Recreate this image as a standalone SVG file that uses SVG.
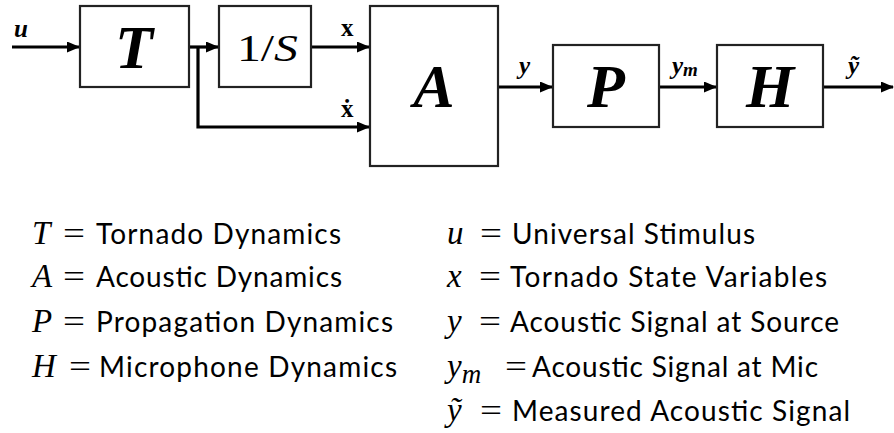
<svg xmlns="http://www.w3.org/2000/svg" width="894" height="433" viewBox="0 0 894 433">
<defs>
<style>
.box{fill:#fff;stroke:#222;stroke-width:2.2}
.wire{fill:none;stroke:#000;stroke-width:3.2}
.big{font-family:"Liberation Serif",serif;font-style:italic;font-weight:bold;font-size:62px;text-anchor:middle}
.lab{font-family:"Liberation Serif",serif;font-weight:bold;font-size:25px}
.m{font-family:"Liberation Serif",serif;font-style:italic;font-size:33px}
.eq{font-family:"Liberation Serif",serif;font-size:32px}
.w{font-family:Lato,"Liberation Sans",sans-serif;font-size:28px;fill:#000}
</style>
<marker id="ah" markerUnits="userSpaceOnUse" markerWidth="13" markerHeight="11" refX="12" refY="5.5" orient="auto">
<path d="M0,0 L13,5.5 L0,11 z" fill="#000"/>
</marker>
</defs>
<rect width="894" height="433" fill="#fff"/>
<g id="connectors">
<line class="wire" x1="12" y1="47" x2="79" y2="47" marker-end="url(#ah)"/>
<line class="wire" x1="189" y1="47" x2="218" y2="47" marker-end="url(#ah)"/>
<polyline class="wire" points="198,47 198,127 369,127" marker-end="url(#ah)"/>
<line class="wire" x1="311" y1="47" x2="369" y2="47" marker-end="url(#ah)"/>
<line class="wire" x1="498" y1="87" x2="552" y2="87" marker-end="url(#ah)"/>
<line class="wire" x1="659" y1="87" x2="716" y2="87" marker-end="url(#ah)"/>
<line class="wire" x1="823" y1="87" x2="893" y2="87" marker-end="url(#ah)"/>
<text class="lab" x="14" y="37" font-style="italic">u</text>
<text class="lab" x="341" y="36">x</text>
<text class="lab" x="341" y="117">ẋ</text>
<text class="lab" x="519" y="74" font-style="italic">y</text>
<text class="lab" x="672" y="74" font-style="italic">y<tspan font-size="19" dy="2">m</tspan></text>
<text class="lab" x="848" y="74" font-style="italic">ỹ</text>
</g>
<g id="T"><rect class="box" x="80" y="6" width="109" height="81"/><text class="big" x="134" y="68">T</text></g>
<g id="integrator"><rect class="box" x="219" y="6" width="92" height="81"/><text x="237" y="61" font-family="Liberation Serif,serif" font-size="38" textLength="61" lengthAdjust="spacingAndGlyphs">1/<tspan font-style="italic">S</tspan></text></g>
<g id="A"><rect class="box" x="370" y="6" width="128" height="160"/><text class="big" x="434" y="107">A</text></g>
<g id="P"><rect class="box" x="553" y="45" width="106" height="82"/><text class="big" x="606" y="107">P</text></g>
<g id="H"><rect class="box" x="717" y="45" width="106" height="82"/><text class="big" x="770" y="107">H</text></g>
<g id="legend">
<text class="m" x="32" y="244">T</text><text class="eq" x="63" y="244" textLength="22" lengthAdjust="spacingAndGlyphs">=</text><text class="w" x="96" y="244" textLength="245">Tornado Dynamics</text>
<text class="m" x="32" y="287">A</text><text class="eq" x="63" y="287" textLength="22" lengthAdjust="spacingAndGlyphs">=</text><text class="w" x="96" y="287" textLength="246">Acoustic Dynamics</text>
<text class="m" x="32" y="332">P</text><text class="eq" x="63" y="332" textLength="22" lengthAdjust="spacingAndGlyphs">=</text><text class="w" x="96" y="332" textLength="297">Propagation Dynamics</text>
<text class="m" x="32" y="377">H</text><text class="eq" x="69" y="377" textLength="22" lengthAdjust="spacingAndGlyphs">=</text><text class="w" x="99" y="377" textLength="298">Microphone Dynamics</text>
<text class="m" x="447" y="244">u</text><text class="eq" x="480" y="244" textLength="22" lengthAdjust="spacingAndGlyphs">=</text><text class="w" x="512" y="244" textLength="243">Universal Stimulus</text>
<text class="m" x="447" y="287">x</text><text class="eq" x="479" y="287" textLength="22" lengthAdjust="spacingAndGlyphs">=</text><text class="w" x="510" y="287" textLength="317">Tornado State Variables</text>
<text class="m" x="447" y="332">y</text><text class="eq" x="479" y="332" textLength="22" lengthAdjust="spacingAndGlyphs">=</text><text class="w" x="510" y="332" textLength="329">Acoustic Signal at Source</text>
<text class="m" x="447" y="377">y<tspan font-size="27" dy="6">m</tspan></text><text class="eq" x="505" y="377" textLength="22" lengthAdjust="spacingAndGlyphs">=</text><text class="w" x="532" y="377" textLength="286">Acoustic Signal at Mic</text>
<text class="m" x="447" y="421">ỹ</text><text class="eq" x="480" y="421" textLength="22" lengthAdjust="spacingAndGlyphs">=</text><text class="w" x="512" y="421" textLength="338">Measured Acoustic Signal</text>
</g>
</svg>
